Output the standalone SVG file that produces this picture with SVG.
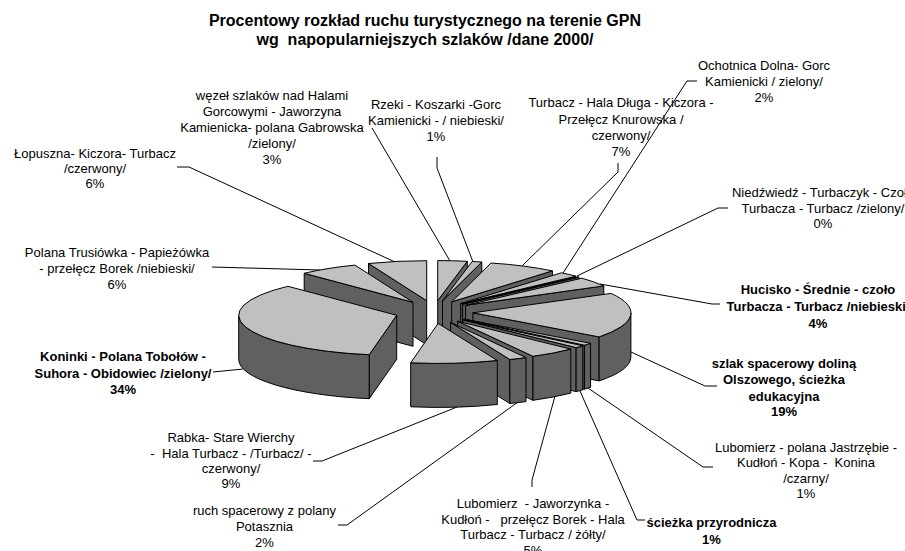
<svg xmlns="http://www.w3.org/2000/svg" width="905" height="551" viewBox="0 0 905 551">
<style>
.top{fill:#C0C0C0;stroke:#000;stroke-width:1;stroke-linejoin:round}
.side{fill:#606060;stroke:#000;stroke-width:1;stroke-linejoin:round}
.lead{fill:none;stroke:#000;stroke-width:1}
text{font-family:"Liberation Sans",Arial,sans-serif;font-size:13px;fill:#000;text-anchor:middle;white-space:pre}
.b{font-weight:bold}
.title{font-size:16px;font-weight:bold}
</style>
<rect width="905" height="551" fill="#fff"/>
<g id="title">
<text class="title" x="425" y="25.5">Procentowy rozkład ruchu turystycznego na terenie GPN</text>
<text class="title" x="425" y="45" xml:space="preserve">wg  napopularniejszych szlaków /dane 2000/</text>
</g>
<g id="connectors">
<path class="lead" d="M177,167 L189,167 L395,262"/>
<path class="lead" d="M372,128 L450,261"/>
<path class="lead" d="M437,157 L437,168 L473,262"/>
<path class="lead" d="M618,163 L618,172 L522,266"/>
<path class="lead" d="M697,81 L687,81 L563,273"/>
<path class="lead" d="M728,208 L718,208 L577,276"/>
<path class="lead" d="M720,304 L712,304 L600,284"/>
<path class="lead" d="M631,352 L705,386 L717,386"/>
<path class="lead" d="M588,388 L703,467 L713,467"/>
<path class="lead" d="M580,391 L637,520 L645,520"/>
<path class="lead" d="M555,396 L532,480 L532,487"/>
<path class="lead" d="M338,525 L347,525 L518,402"/>
<path class="lead" d="M313,461 L322,461 L457,407"/>
<path class="lead" d="M213,372 L243,369"/>
<path class="lead" d="M212,267 L320,270"/>
</g>
<g id="pie">
<g id="slice-wezel">
<path class="side" d="M437.7,300.6 L467.3,261.3 L467.3,305.3 L437.7,344.6 Z"/>
<path class="top" d="M437.7,300.6 L467.3,261.3 A158,40 0 0 0 437.7,260.6 Z"/>
</g>
<g id="slice-rzeki">
<path class="side" d="M442.5,300.8 L481.8,262.0 L481.8,306.0 L442.5,344.8 Z"/>
<path class="top" d="M442.5,300.8 L481.8,262.0 A158,40 0 0 0 472.1,261.5 Z"/>
</g>
<g id="slice-turbacz">
<path class="side" d="M451.7,301.8 L552.4,270.9 L552.4,314.9 L451.7,345.8 Z"/>
<path class="top" d="M451.7,301.8 L552.4,270.9 A158,40 0 0 0 491.0,263.0 Z"/>
</g>
<g id="slice-ochotnica">
<path class="side" d="M460.7,303.6 L575.9,276.2 L575.9,320.2 L460.7,347.6 Z"/>
<path class="top" d="M460.7,303.6 L575.9,276.2 A158,40 0 0 0 561.4,272.8 Z"/>
</g>
<g id="slice-niedzwiedz">
<path class="side" d="M462.6,304.2 L578.9,277.1 L578.9,321.1 L462.6,348.2 Z"/>
<path class="top" d="M462.6,304.2 L578.9,277.1 A158,40 0 0 0 577.8,276.8 Z"/>
</g>
<g id="slice-hucisko">
<path class="side" d="M465.6,305.3 L603.8,285.9 L603.8,329.9 L465.6,349.3 Z"/>
<path class="top" d="M465.6,305.3 L603.8,285.9 A158,40 0 0 0 581.9,278.2 Z"/>
</g>
<g id="slice-szlak">
<path class="side" d="M472.9,312.8 L599.1,336.9 L599.1,380.9 L472.9,356.8 Z"/>
<path class="side" d="M599.1,336.9 A158,40 0 0 0 630.9,312.8 L630.9,356.8 A158,40 0 0 1 599.1,380.9 Z"/>
<path class="top" d="M472.9,312.8 L599.1,336.9 A158,40 0 0 0 611.1,293.4 Z"/>
</g>
<g id="slice-lubomierz-jastrzebie">
<path class="side" d="M464.4,319.2 L584.4,345.2 L584.4,389.2 L464.4,363.2 Z"/>
<path class="side" d="M584.4,345.2 A158,40 0 0 0 590.6,343.3 L590.6,387.3 A158,40 0 0 1 584.4,389.2 Z"/>
<path class="top" d="M464.4,319.2 L584.4,345.2 A158,40 0 0 0 590.6,343.3 Z"/>
</g>
<g id="slice-sciezka">
<path class="side" d="M462.8,319.8 L576.1,347.6 L576.1,391.6 L462.8,363.8 Z"/>
<path class="side" d="M576.1,347.6 A158,40 0 0 0 582.8,345.8 L582.8,389.8 A158,40 0 0 1 576.1,391.6 Z"/>
<path class="top" d="M462.8,319.8 L576.1,347.6 A158,40 0 0 0 582.8,345.8 Z"/>
</g>
<g id="slice-jaworzynka">
<path class="side" d="M457.6,321.2 L533.0,356.3 L533.0,400.3 L457.6,365.2 Z"/>
<path class="side" d="M533.0,356.3 A158,40 0 0 0 570.8,349.1 L570.8,393.1 A158,40 0 0 1 533.0,400.3 Z"/>
<path class="top" d="M457.6,321.2 L533.0,356.3 A158,40 0 0 0 570.8,349.1 Z"/>
</g>
<g id="slice-ruch">
<path class="side" d="M450.6,322.4 L509.8,359.5 L509.8,403.5 L450.6,366.4 Z"/>
<path class="side" d="M509.8,359.5 A158,40 0 0 0 526.0,357.6 L526.0,401.6 A158,40 0 0 1 509.8,403.5 Z"/>
<path class="top" d="M450.6,322.4 L509.8,359.5 A158,40 0 0 0 526.0,357.6 Z"/>
</g>
<g id="slice-lopuszna">
<path class="side" d="M426.7,300.7 L368.5,263.5 L368.5,307.5 L426.7,344.7 Z"/>
<path class="top" d="M426.7,300.7 L426.7,260.7 A158,40 0 0 0 368.5,263.5 Z"/>
</g>
<g id="slice-polana">
<path class="side" d="M413.0,302.3 L304.2,273.3 L304.2,317.3 L413.0,346.3 Z"/>
<path class="top" d="M413.0,302.3 L354.9,265.1 A158,40 0 0 0 304.2,273.3 Z"/>
</g>
<g id="slice-koninki">
<path class="side" d="M396.7,315.3 L369.2,354.7 L369.2,398.7 L396.7,359.3 Z"/>
<path class="side" d="M238.7,315.3 A158,40 0 0 0 369.2,354.7 L369.2,398.7 A158,40 0 0 1 238.7,359.3 Z"/>
<path class="top" d="M396.7,315.3 L287.9,286.3 A158,40 0 0 0 369.2,354.7 Z"/>
</g>
<g id="slice-rabka">
<path class="side" d="M410.7,362.8 A158,40 0 0 0 497.3,360.5 L497.3,404.5 A158,40 0 0 1 410.7,406.8 Z"/>
<path class="top" d="M438.1,323.4 L410.7,362.8 A158,40 0 0 0 497.3,360.5 Z"/>
</g>
</g>
<g id="label-wezel">
<text x="272" y="100.4">węzeł szlaków nad Halami</text>
<text x="272" y="116.4">Gorcowymi - Jaworzyna</text>
<text x="272" y="132.4">Kamienicka- polana Gabrowska</text>
<text x="272" y="148.4">/zielony/</text>
<text x="272" y="164.4">3%</text>
</g>
<g id="label-rzeki">
<text x="436" y="108.7">Rzeki - Koszarki -Gorc</text>
<text x="436" y="125">Kamienicki - / niebieski/</text>
<text x="436" y="141.3">1%</text>
</g>
<g id="label-turbacz">
<text x="621" y="107.4">Turbacz - Hala Długa - Kiczora -</text>
<text x="621" y="123.7">Przełęcz Knurowska /</text>
<text x="621" y="140">czerwony/</text>
<text x="621" y="156.3">7%</text>
</g>
<g id="label-ochotnica">
<text x="764" y="69.7">Ochotnica Dolna- Gorc</text>
<text x="764" y="86">Kamienicki / zielony/</text>
<text x="764" y="102.3">2%</text>
</g>
<g id="label-niedzwiedz">
<text x="823" y="197">Niedźwiedź - Turbaczyk - Czoło</text>
<text x="823" y="212.5">Turbacza - Turbacz /zielony/</text>
<text x="823" y="228">0%</text>
</g>
<g id="label-hucisko">
<text class="b" x="818" y="294">Hucisko - Średnie - czoło</text>
<text class="b" x="818" y="310.8">Turbacza - Turbacz /niebieski/</text>
<text class="b" x="818" y="327.6">4%</text>
</g>
<g id="label-szlak">
<text class="b" x="784" y="368">szlak spacerowy doliną</text>
<text class="b" x="784" y="384.3">Olszowego, ścieżka</text>
<text class="b" x="784" y="400.6">edukacyjna</text>
<text class="b" x="784" y="416.4">19%</text>
</g>
<g id="label-lubomierz-jastrzebie">
<text x="806" y="452">Lubomierz - polana Jastrzębie -</text>
<text x="806" y="467.3" xml:space="preserve">Kudłoń - Kopa -  Konina</text>
<text x="806" y="482.6">/czarny/</text>
<text x="806" y="497.9">1%</text>
</g>
<g id="label-sciezka">
<text class="b" x="711.5" y="527.4">ścieżka przyrodnicza</text>
<text class="b" x="711.5" y="544">1%</text>
</g>
<g id="label-jaworzynka">
<text x="533" y="508" xml:space="preserve">Lubomierz  - Jaworzynka -</text>
<text x="533" y="523.7" xml:space="preserve">Kudłoń -   przełęcz Borek - Hala</text>
<text x="533" y="539.4">Turbacz - Turbacz / żółty/</text>
<text x="533" y="555">5%</text>
</g>
<g id="label-ruch">
<text x="264.5" y="514.7">ruch spacerowy z polany</text>
<text x="264.5" y="530.6">Potasznia</text>
<text x="264.5" y="546.5">2%</text>
</g>
<g id="label-rabka">
<text x="231" y="442">Rabka- Stare Wierchy</text>
<text x="231" y="457.5" xml:space="preserve">-  Hala Turbacz - /Turbacz/ -</text>
<text x="231" y="473">czerwony/</text>
<text x="231" y="488">9%</text>
</g>
<g id="label-koninki">
<text class="b" x="123" y="361.4">Koninki - Polana Tobołów -</text>
<text class="b" x="123" y="377.7">Suhora - Obidowiec /zielony/</text>
<text class="b" x="123" y="394">34%</text>
</g>
<g id="label-polana">
<text x="117" y="257.4">Polana Trusiówka - Papieżówka</text>
<text x="117" y="273">- przełęcz Borek /niebieski/</text>
<text x="117" y="288.6">6%</text>
</g>
<g id="label-lopuszna">
<text x="95" y="158">Łopuszna- Kiczora- Turbacz</text>
<text x="95" y="173">/czerwony/</text>
<text x="95" y="188">6%</text>
</g>
</svg>
